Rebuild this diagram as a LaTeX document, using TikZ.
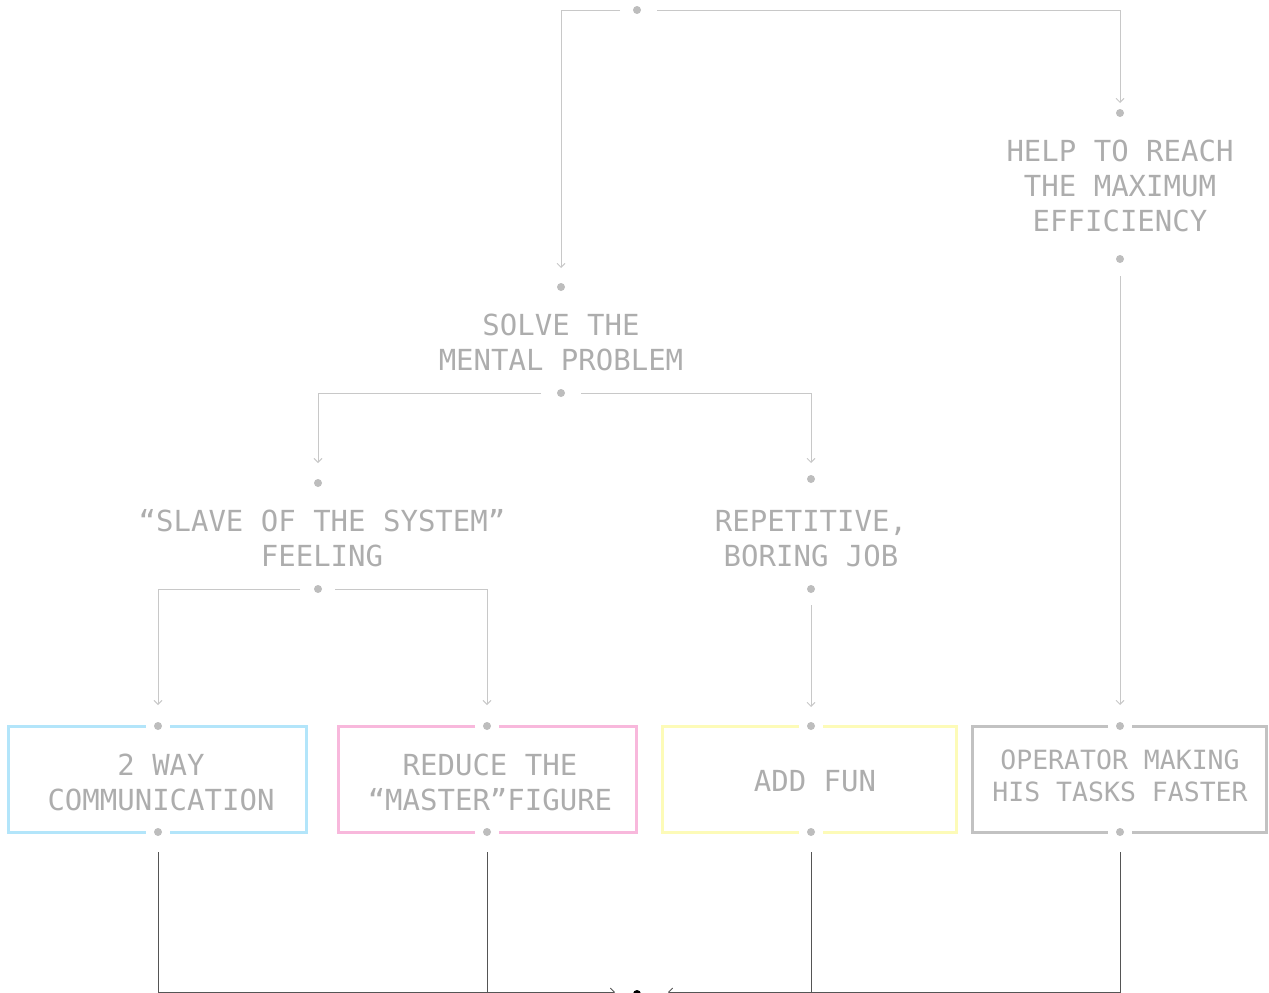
\documentclass[tikz,border=0pt]{standalone}
\usepackage{fontspec}
\setmonofont{DejaVu Sans Mono}
\usetikzlibrary{arrows.meta}
\definecolor{txt}{HTML}{ADADAD}
\definecolor{ln}{HTML}{C8C8C8}
\definecolor{dotc}{HTML}{BDBDBD}
\definecolor{bblue}{HTML}{B3E5FA}
\definecolor{bpink}{HTML}{F8B8DC}
\definecolor{byel}{HTML}{FDFBB8}
\definecolor{bgray}{HTML}{C2C2C2}
\definecolor{dark}{HTML}{555555}
\tikzset{
  lbl/.style={anchor=base, align=center, inner sep=0pt, text=txt,
    font=\ttfamily\fontsize{29}{35}\selectfont},
  lblsmall/.style={lbl, font=\ttfamily\fontsize{26.5}{32}\selectfont},
  dotp/.style={circle, fill=dotc, inner sep=0pt, minimum size=8pt},
  conn/.style={draw=ln, line width=0.9pt, -{Straight Barb[length=4pt,width=8pt,line width=0.9pt]}},
  darkconn/.style={draw=dark, line width=1pt, -{Straight Barb[length=4pt,width=8pt,line width=0.9pt]}},
  darkline/.style={draw=dark, line width=1pt},
  boxb/.style={draw=#1, line width=3pt},
}
\begin{document}
\begin{tikzpicture}[x=1pt,y=-1pt]
\useasboundingbox (0,0) rectangle (1269,993);
% boxes (top border gap around dot)
\draw[boxb=bblue] (146,726) -- (8,726) -- (8,832) -- (306,832) -- (306,726) -- (170,726);
\draw[boxb=bpink] (475,726) -- (338,726) -- (338,832) -- (636,832) -- (636,726) -- (499,726);
\draw[boxb=byel] (799,726) -- (662,726) -- (662,832) -- (956,832) -- (956,726) -- (823,726);
\draw[boxb=bgray] (1108,726) -- (972,726) -- (972,832) -- (1266,832) -- (1266,726) -- (1132,726);
% bottom border gaps
\fill[white] (146,828) rectangle (170,836);
\fill[white] (475,828) rectangle (499,836);
\fill[white] (799,828) rectangle (823,836);
\fill[white] (1108,828) rectangle (1132,836);

% dots
\node[dotp] (top) at (637,10) {};
\node[dotp] (helpT) at (1120,113) {};
\node[dotp] (helpB) at (1120,259) {};
\node[dotp] (solveT) at (561,287) {};
\node[dotp] (solveB) at (561,393) {};
\node[dotp] (slaveT) at (318,483) {};
\node[dotp] (slaveB) at (318,589) {};
\node[dotp] (repT) at (811,479) {};
\node[dotp] (repB) at (811,589) {};
\node[dotp] (b1T) at (158,726) {};
\node[dotp] (b1B) at (158,832) {};
\node[dotp] (b2T) at (487,726) {};
\node[dotp] (b2B) at (487,832) {};
\node[dotp] (b3T) at (811,726) {};
\node[dotp] (b3B) at (811,832) {};
\node[dotp] (b4T) at (1120,726) {};
\node[dotp] (b4B) at (1120,832) {};
\node[circle, fill=black, inner sep=0pt, minimum size=8pt] (end) at (637,994) {};

% labels (anchor = baseline of last line)
\node[lbl] (help) at (1120,231) {HELP TO REACH\\THE MAXIMUM\\EFFICIENCY};
\node[lbl] (solve) at (561,370) {SOLVE THE\\MENTAL PROBLEM};
\node[lbl] (slave) at (322,566) {“SLAVE OF THE SYSTEM”\\FEELING};
\node[lbl] (rep) at (811,566) {REPETITIVE,\\BORING JOB};
\node[lbl] (b1) at (161,810) {2 WAY\\COMMUNICATION};
\node[lbl] (b2) at (490,810) {REDUCE THE\\“MASTER”FIGURE};
\node[lbl] (b3) at (815,791) {ADD FUN};
\node[lblsmall] (b4) at (1120,801) {OPERATOR MAKING\\HIS TASKS FASTER};

% connectors top
\draw[conn] ([xshift=-17pt]top.center) -- (561,10) -- ([yshift=19pt]solveT.center);
\draw[conn] ([xshift=20pt]top.center) -- (1120,10) -- ([yshift=10pt]helpT.center);
\draw[conn] ([yshift=-17pt]helpB.center) -- ([yshift=21pt]b4T.center);
\draw[conn] ([xshift=-20pt]solveB.center) -- (318,393) -- ([yshift=20pt]slaveT.center);
\draw[conn] ([xshift=20pt]solveB.center) -- (811,393) -- ([yshift=16pt]repT.center);
\draw[conn] ([xshift=-18pt]slaveB.center) -- (158,589) -- ([yshift=21pt]b1T.center);
\draw[conn] ([xshift=17pt]slaveB.center) -- (487,589) -- ([yshift=21pt]b2T.center);
\draw[conn] ([yshift=-16pt]repB.center) -- ([yshift=19pt]b3T.center);

% bottom connectors
\draw[darkconn] ([yshift=-20pt]b1B.center) -- (158,992) -- ([xshift=-22pt]end.center |- 0,992);
\draw[darkline] ([yshift=-20pt]b2B.center) -- (487,992);
\draw[darkline] ([yshift=-20pt]b3B.center) -- (811,992);
\draw[darkconn] ([yshift=-20pt]b4B.center) -- (1120,992) -- ([xshift=31pt]end.center |- 0,992);
\end{tikzpicture}
\end{document}
